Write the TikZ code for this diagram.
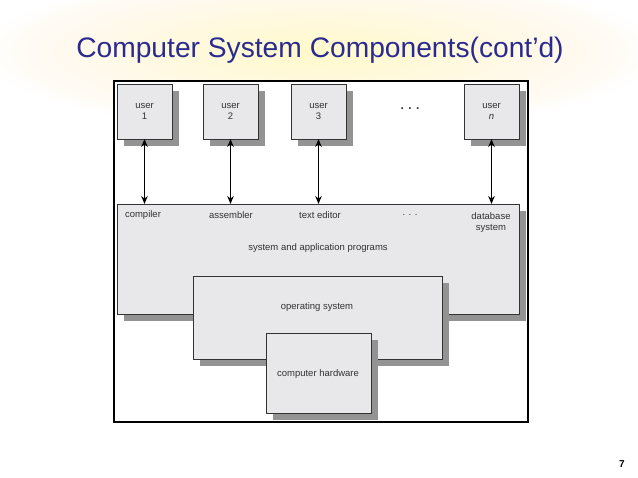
\documentclass[tikz,border=0pt]{standalone}
\usepackage{fontspec}
\setmainfont{Liberation Sans}
\usetikzlibrary{arrows.meta}
\definecolor{titleblue}{HTML}{2B2B8F}
\definecolor{boxfill}{HTML}{E8E7E9}
\definecolor{boxtext}{HTML}{333333}
\definecolor{shadowc}{HTML}{939393}
\definecolor{glow}{HTML}{FFF990}
\begin{document}
\begin{tikzpicture}[x=1pt,y=-1pt,
  panel/.style={draw=black!80, line width=0.8pt, fill=boxfill},
  shade/.style={fill=shadowc},
  lbl/.style={font=\fontsize{9.5}{11.5}\selectfont, text=boxtext, align=center},
  link/.style={{Stealth[length=8pt,width=6.5pt]}-{Stealth[length=8pt,width=6.5pt]}, line width=1.8pt}
]
\useasboundingbox (0,0) rectangle (638,478);
\fill[white] (0,0) rectangle (638,478);
\foreach \i in {1,...,24}
  \fill[glow, opacity=0.02] (320,52) ellipse ({14*\i} and {3.3*\i});
\node[font=\fontsize{28.2}{34}\selectfont, text=titleblue] (title) at (320,50) {Computer System Components(cont’d)};

% frame
\fill[white] (114,81) rectangle (528,422);

% shadows
\foreach \a/\b/\c/\d in {117/84/172/139, 203/84/258/139, 291/84/346/139, 464/84/519/139, 117/204/519/314}
  \fill[shade] (\a+7,\b+7) rectangle (\c+7,\d+7);

% user boxes
\draw[panel] (117,84) rectangle (172,139);
\draw[panel] (203,84) rectangle (258,139);
\draw[panel] (291,84) rectangle (346,139);
\draw[panel] (464,84) rectangle (519,139);
\node[lbl] (u1) at (144.5,111.5) {user\\1};
\node[lbl] (u2) at (230.5,111.5) {user\\2};
\node[lbl] (u3) at (318.5,111.5) {user\\3};
\node[lbl] (un) at (491.5,111.5) {user\\\textit{n}};
\node[lbl, font=\fontsize{12}{12}\selectfont\bfseries] (udots) at (410,109) {. . .};

% programs box
\draw[panel] (117,204) rectangle (519,314);
\node[lbl] (comp) at (143,215) {compiler};
\node[lbl] (asm) at (231,215) {assembler};
\node[lbl] (ted) at (320,215) {text editor};
\node[lbl] (pdots) at (410,215) {. . .};
\node[lbl, anchor=north] (db) at (491,209) {database\\system};
\node[lbl] (sap) at (318,248) {system and application programs};

% OS
\fill[shade] (200,283) rectangle (449,366);
\draw[panel] (193,276) rectangle (442,359);
\node[lbl] (os) at (317,307) {operating system};

% hardware
\fill[shade] (273,340) rectangle (378,420);
\draw[panel] (266,333) rectangle (371,413);
\node[lbl] (hw) at (318,374) {computer hardware};

% arrows
\coordinate (a1t) at (144.5,139); \coordinate (a1b) at (144.5,204);
\coordinate (a2t) at (230.5,139); \coordinate (a2b) at (230.5,204);
\coordinate (a3t) at (318.5,139); \coordinate (a3b) at (318.5,204);
\coordinate (a4t) at (491.5,139); \coordinate (a4b) at (491.5,204);
\draw[link] (a1t) -- (a1b);
\draw[link] (a2t) -- (a2b);
\draw[link] (a3t) -- (a3b);
\draw[link] (a4t) -- (a4b);

\draw[line width=2.4pt] (114,81) rectangle (528,422);

\node[font=\fontsize{10}{12}\selectfont\bfseries] (pg) at (622,464) {7};
\end{tikzpicture}
\end{document}
